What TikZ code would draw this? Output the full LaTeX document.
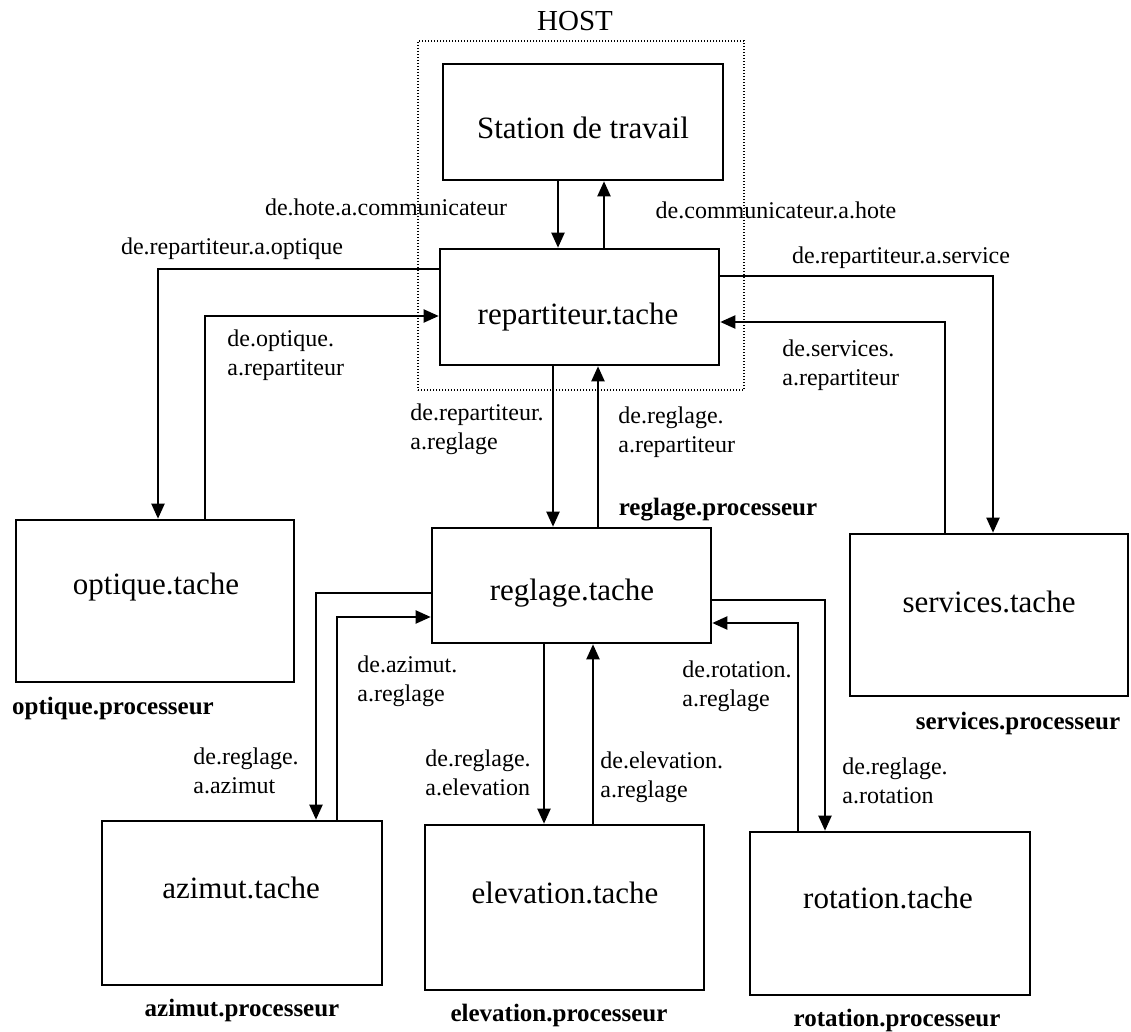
\documentclass[tikz,border=0pt]{standalone}
\usepackage{fontspec}
\setmainfont{Liberation Serif}
\usetikzlibrary{arrows.meta,fit}
\begin{document}
\begin{tikzpicture}[x=0.5pt,y=-0.5pt,
  box/.style={draw, line width=1.3pt, inner sep=0pt},
  hostbox/.style={draw, line width=0.7pt, dash pattern=on 0.7pt off 0.8pt, inner sep=0pt},
  conn/.style={line width=1pt, -{Triangle[length=7.5pt,width=6.5pt]}},
  lab/.style={font=\fontsize{12}{14.5}\selectfont, inner sep=0pt},
  ml/.style={lab, align=left, anchor=west},
  proc/.style={font=\bfseries\fontsize{12.5}{15}\selectfont, inner sep=0pt},
  big/.style={font=\fontsize{15.5}{18}\selectfont, inner sep=0pt}]
\useasboundingbox (0,0) rectangle (1131,1032);
\fill[white] (0,0) rectangle (1131,1032);

% boxes
\node[hostbox, fit={(418,41) (744,390)}] (host) {};
\node[box, fit={(443,64) (723,180)}] (station) {};
\node[box, fit={(440,249) (719,365)}] (repart) {};
\node[box, fit={(16,520) (294,682)}] (optique) {};
\node[box, fit={(850,534) (1128,696)}] (services) {};
\node[box, fit={(432,528) (711,643)}] (reglage) {};
\node[box, fit={(102,821) (382,985)}] (azimut) {};
\node[box, fit={(425,825) (704,990)}] (elevation) {};
\node[box, fit={(750,832) (1030,995)}] (rotation) {};

% box texts
\node[font=\fontsize{14.5}{17}\selectfont, inner sep=0pt] (hostlab) at (575,21) {HOST};
\node[big] (tstation) at (583,128) {Station de travail};
\node[big] (trepart) at (578,317) {repartiteur.tache};
\node[big] (toptique) at (156,587) {optique.tache};
\node[big] (tservices) at (989,602) {services.tache};
\node[big] (treglage) at (572,593) {reglage.tache};
\node[big] (tazimut) at (241,888) {azimut.tache};
\node[big] (televation) at (565,893) {elevation.tache};
\node[big] (trotation) at (888,898) {rotation.tache};

% processor labels
\node[proc] (poptique) at (113,708) {optique.processeur};
\node[proc] (pservices) at (1018,723) {services.processeur};
\node[proc] (preglage) at (718,510) {reglage.processeur};
\node[proc] (pazimut) at (242,1010) {azimut.processeur};
\node[proc] (pelevation) at (559,1015) {elevation.processeur};
\node[proc] (protation) at (897,1020) {rotation.processeur};

% connectors
\draw[conn] (station.south -| 558,0) -- (repart.north -| 558,0);
\draw[conn] (repart.north -| 604,0) -- (station.south -| 604,0);
\draw[conn] (repart.west |- 0,269) -| (optique.north -| 158,0);
\draw[conn] (optique.north -| 205,0) |- (repart.west |- 0,316);
\draw[conn] (repart.east |- 0,276) -| (services.north -| 993,0);
\draw[conn] (services.north -| 945,0) |- (repart.east |- 0,322);
\draw[conn] (repart.south -| 553,0) -- (reglage.north -| 553,0);
\draw[conn] (reglage.north -| 598,0) -- (repart.south -| 598,0);
\draw[conn] (reglage.west |- 0,593) -| (azimut.north -| 316,0);
\draw[conn] (azimut.north -| 337,0) |- (reglage.west |- 0,617);
\draw[conn] (reglage.south -| 544,0) -- (elevation.north -| 544,0);
\draw[conn] (elevation.north -| 593,0) -- (reglage.south -| 593,0);
\draw[conn] (reglage.east |- 0,600) -| (rotation.north -| 825,0);
\draw[conn] (rotation.north -| 798,0) |- (reglage.east |- 0,623);

% connector labels
\node[lab] (l1) at (386,207) {de.hote.a.communicateur};
\node[lab] (l2) at (776,210) {de.communicateur.a.hote};
\node[lab] (l3) at (232,249) {de.repartiteur.a.optique};
\node[ml] (l4) at (227,355) {de.optique.\\a.repartiteur};
\node[lab] (l5) at (901,258) {de.repartiteur.a.service};
\node[ml] (l6) at (782,365) {de.services.\\a.repartiteur};
\node[ml] (l7) at (410,429) {de.repartiteur.\\a.reglage};
\node[ml] (l8) at (618,432) {de.reglage.\\a.repartiteur};
\node[ml] (l9) at (357,681) {de.azimut.\\a.reglage};
\node[ml] (l10) at (193,771) {de.reglage.\\a.azimut};
\node[ml] (l11) at (425,773) {de.reglage.\\a.elevation};
\node[ml] (l12) at (600,777) {de.elevation.\\a.reglage};
\node[ml] (l13) at (682,686) {de.rotation.\\a.reglage};
\node[ml] (l14) at (842,781) {de.reglage.\\a.rotation};
\end{tikzpicture}
\end{document}
